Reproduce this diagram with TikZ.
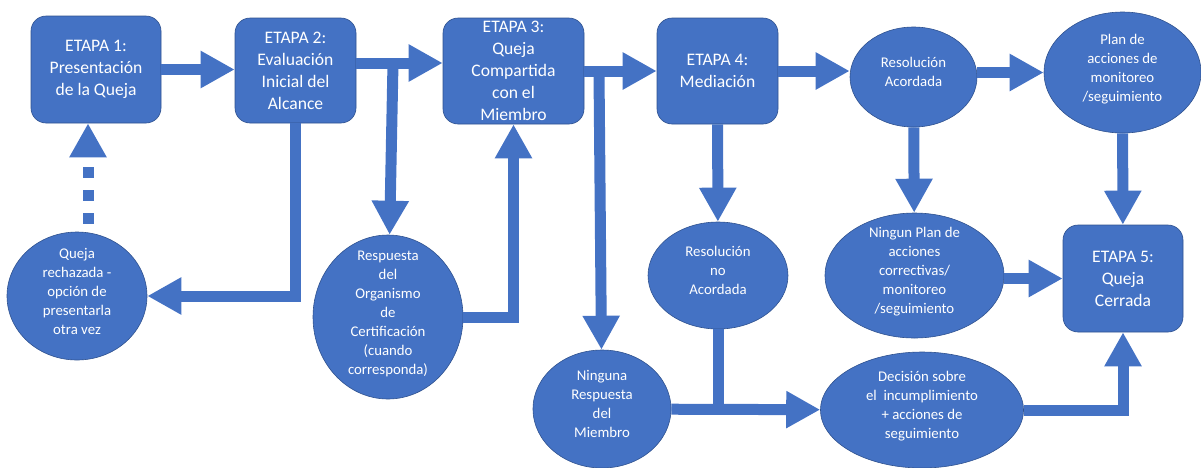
\documentclass[tikz,border=0pt]{standalone}
\usepackage{fontspec}
\setmainfont{Carlito}
\usepackage{xcolor}
\usepackage{tikz}
\usetikzlibrary{arrows.meta,positioning,shapes.geometric}
\definecolor{QuejaBlue}{HTML}{4472C4}
\definecolor{QuejaEdge}{HTML}{2F528F}
\newcommand{\ovaltext}[1]{\smash{\begin{tabular}{@{}c@{}}#1\end{tabular}}}
\tikzset{
  stage/.style={rectangle, rounded corners=15pt, fill=QuejaBlue, draw=QuejaEdge,
                line width=0.6pt, text=white, align=center, inner sep=0pt,
                font=\fontsize{17.6}{22}\selectfont},
  outcome/.style={ellipse, fill=QuejaBlue, draw=QuejaEdge, line width=0.6pt,
                  text=white, inner sep=0pt, font=\fontsize{14.8}{19}\selectfont},
  flow/.style={-{Triangle[width=35pt, length=34pt]}, draw=QuejaBlue, line width=11pt},
  merge/.style={draw=QuejaBlue, line width=11pt},
  retry/.style={flow, dash pattern=on 11pt off 12pt, dash phase=15pt}
}
\begin{document}
\begin{tikzpicture}[x=1pt, y=-1pt]
  \useasboundingbox (0,0) rectangle (1201,467);
  \node[stage, minimum width=130pt, minimum height=107pt] (etapa1) at (96,69.5)
    {ETAPA 1:\\Presentación\\de la Queja};
  \node[stage, minimum width=121pt, minimum height=105pt] (etapa2) at (295.5,70.5)
    {ETAPA 2:\\Evaluación\\Inicial del\\Alcance};
  \node[stage, minimum width=141pt, minimum height=106pt] (etapa3) at (513.5,71)
    {ETAPA 3:\\Queja\\Compartida\\con el\\Miembro};
  \node[stage, minimum width=121pt, minimum height=106pt] (etapa4) at (717.5,71)
    {ETAPA 4:\\Mediación};
  \node[stage, minimum width=120pt, minimum height=107pt] (etapa5) at (1123,278.5)
    {ETAPA 5:\\Queja\\Cerrada};
  \node[outcome, minimum width=127pt, minimum height=100pt] (acordada) at (913.5,77)
    {\ovaltext{Resolución\\Acordada}};
  \node[outcome, minimum width=157pt, minimum height=121pt] (plan) at (1122.5,72.5)
    {\ovaltext{Plan de\\acciones de\\monitoreo\\/seguimiento}};
  \node[outcome, minimum width=179pt, minimum height=125pt] (ningunplan) at (914.5,275.5)
    {\ovaltext{Ningun Plan de\\acciones\\correctivas/\\monitoreo\\/seguimiento}};
  \node[outcome, minimum width=203pt, minimum height=116pt] (decision) at (922,410)
    {\ovaltext{Decisión sobre\\el\ \ incumplimiento\\+ acciones de\\seguimiento}};
  \node[outcome, minimum width=140pt, minimum height=107pt] (noacordada) at (718,275.5)
    {\ovaltext{Resolución\\no\\Acordada}};
  \node[outcome, minimum width=138pt, minimum height=118pt] (ninguna) at (602,409)
    {\ovaltext{Ninguna\\Respuesta\\del\\Miembro}};
  \node[outcome, minimum width=150pt, minimum height=164pt] (respuesta) at (388,317)
    {\ovaltext{Respuesta\\del\\Organismo\\de\\Certificación\\(cuando\\corresponda)}};
  \node[outcome, minimum width=140pt, minimum height=128pt] (rechazada) at (77,296)
    {\ovaltext{Queja\\rechazada -\\opción de\\presentarla\\otra vez}};
  \coordinate (back) at (88,0);
  \coordinate (split2) at (393,63);
  \coordinate (split3) at (599,72);
  \draw[flow] (etapa1.east) -- (etapa2.west |- etapa1.east);
  \draw[flow] (etapa2.east |- split2) -- (etapa3.west |- split2);
  \draw[flow] (split2) -- (respuesta);
  \draw[flow] (etapa2) |- (rechazada);
  \draw[retry] (rechazada.north -| back) -- (etapa1.south -| back);
  \draw[flow] (respuesta) -| (etapa3);
  \draw[flow] (etapa3) -- (etapa4);
  \draw[flow] (split3) -- (ninguna);
  \draw[flow] (etapa4.east) -- (acordada.west |- etapa4.east);
  \draw[flow] (etapa4) -- (noacordada);
  \draw[flow] (acordada.east |- plan.west) -- (plan.west);
  \draw[flow] (acordada) -- (ningunplan);
  \draw[flow] (plan) -- (etapa5);
  \draw[flow] (ningunplan.east |- etapa5.west) -- (etapa5.west);
  \draw[flow] (ninguna) -- (decision);
  \draw[merge] (noacordada.south) -- (noacordada.south |- decision.west);
  \draw[flow] (decision) -| (etapa5);
\end{tikzpicture}
\end{document}
